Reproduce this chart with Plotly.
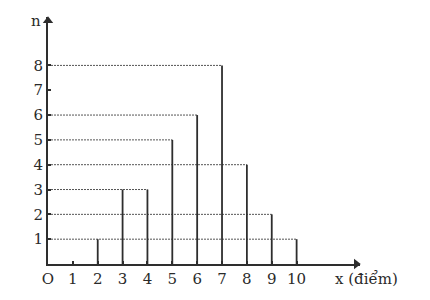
import plotly.graph_objects as go

# data
scores = [2, 3, 4, 5, 6, 7, 8, 9, 10]
counts = [1, 3, 3, 5, 6, 8, 4, 2, 1]
x_tick_vals = list(range(0, 11))
x_tick_text = ["O"] + [str(v) for v in range(1, 11)]
y_tick_vals = list(range(1, 9))
y_tick_text = [str(v) for v in range(1, 9)]

X_MAX = 12.55
Y_MAX = 9.95
INK = "#2e2e2e"
FONT = dict(family="DejaVu Serif", size=15, color="#2a2a2a")

fig = go.Figure()

# dotted guide lines from the n-axis to the farthest bar of each height
reach = {}
for s, c in zip(scores, counts):
    reach[c] = max(reach.get(c, 0), s)
gx, gy = [], []
for c, s in reach.items():
    gx += [0, s, None]
    gy += [c, c, None]
fig.add_trace(go.Scatter(x=gx, y=gy, mode="lines",
                         line=dict(color="#555555", width=1, dash="2px,1px"),
                         hoverinfo="skip", showlegend=False))

# vertical bars (frequency lines)
vx, vy = [], []
for s, c in zip(scores, counts):
    vx += [s, s, None]
    vy += [0, c, None]
fig.add_trace(go.Scatter(x=vx, y=vy, mode="lines",
                         line=dict(color=INK, width=1.8),
                         hoverinfo="skip", showlegend=False))

# axis arrowheads
fig.add_trace(go.Scatter(x=[X_MAX - 0.15], y=[0], mode="markers",
                         marker=dict(symbol="triangle-right", size=9, color=INK),
                         cliponaxis=False, hoverinfo="skip", showlegend=False))
fig.add_trace(go.Scatter(x=[0], y=[Y_MAX - 0.15], mode="markers",
                         marker=dict(symbol="triangle-up", size=9, color=INK),
                         cliponaxis=False, hoverinfo="skip", showlegend=False))

fig.update_layout(
    width=430, height=300,
    margin=dict(l=48, r=70, t=17, b=32),
    paper_bgcolor="white", plot_bgcolor="white",
    font=FONT,
    xaxis=dict(range=[0, X_MAX], showgrid=False, zeroline=False,
               showline=True, linecolor=INK, linewidth=2,
               tickmode="array", tickvals=x_tick_vals, ticktext=x_tick_text,
               ticks="inside", ticklen=3, tickcolor=INK, tickwidth=1.5,
               tickfont=FONT),
    yaxis=dict(range=[0, Y_MAX], showgrid=False, zeroline=False,
               showline=True, linecolor=INK, linewidth=2,
               tickmode="array", tickvals=y_tick_vals, ticktext=y_tick_text,
               ticks="inside", ticklen=3, tickcolor=INK, tickwidth=1.5,
               tickfont=FONT),
    annotations=[
        dict(text="x (điểm)", x=0.912, y=-0.062, xref="paper", yref="paper",
             xanchor="left", yanchor="middle", showarrow=False, font=FONT),
        dict(text="n", x=-0.038, y=0.984, xref="paper", yref="paper",
             xanchor="center", yanchor="middle", showarrow=False, font=FONT),
    ],
)

fig.write_html("out.html")
